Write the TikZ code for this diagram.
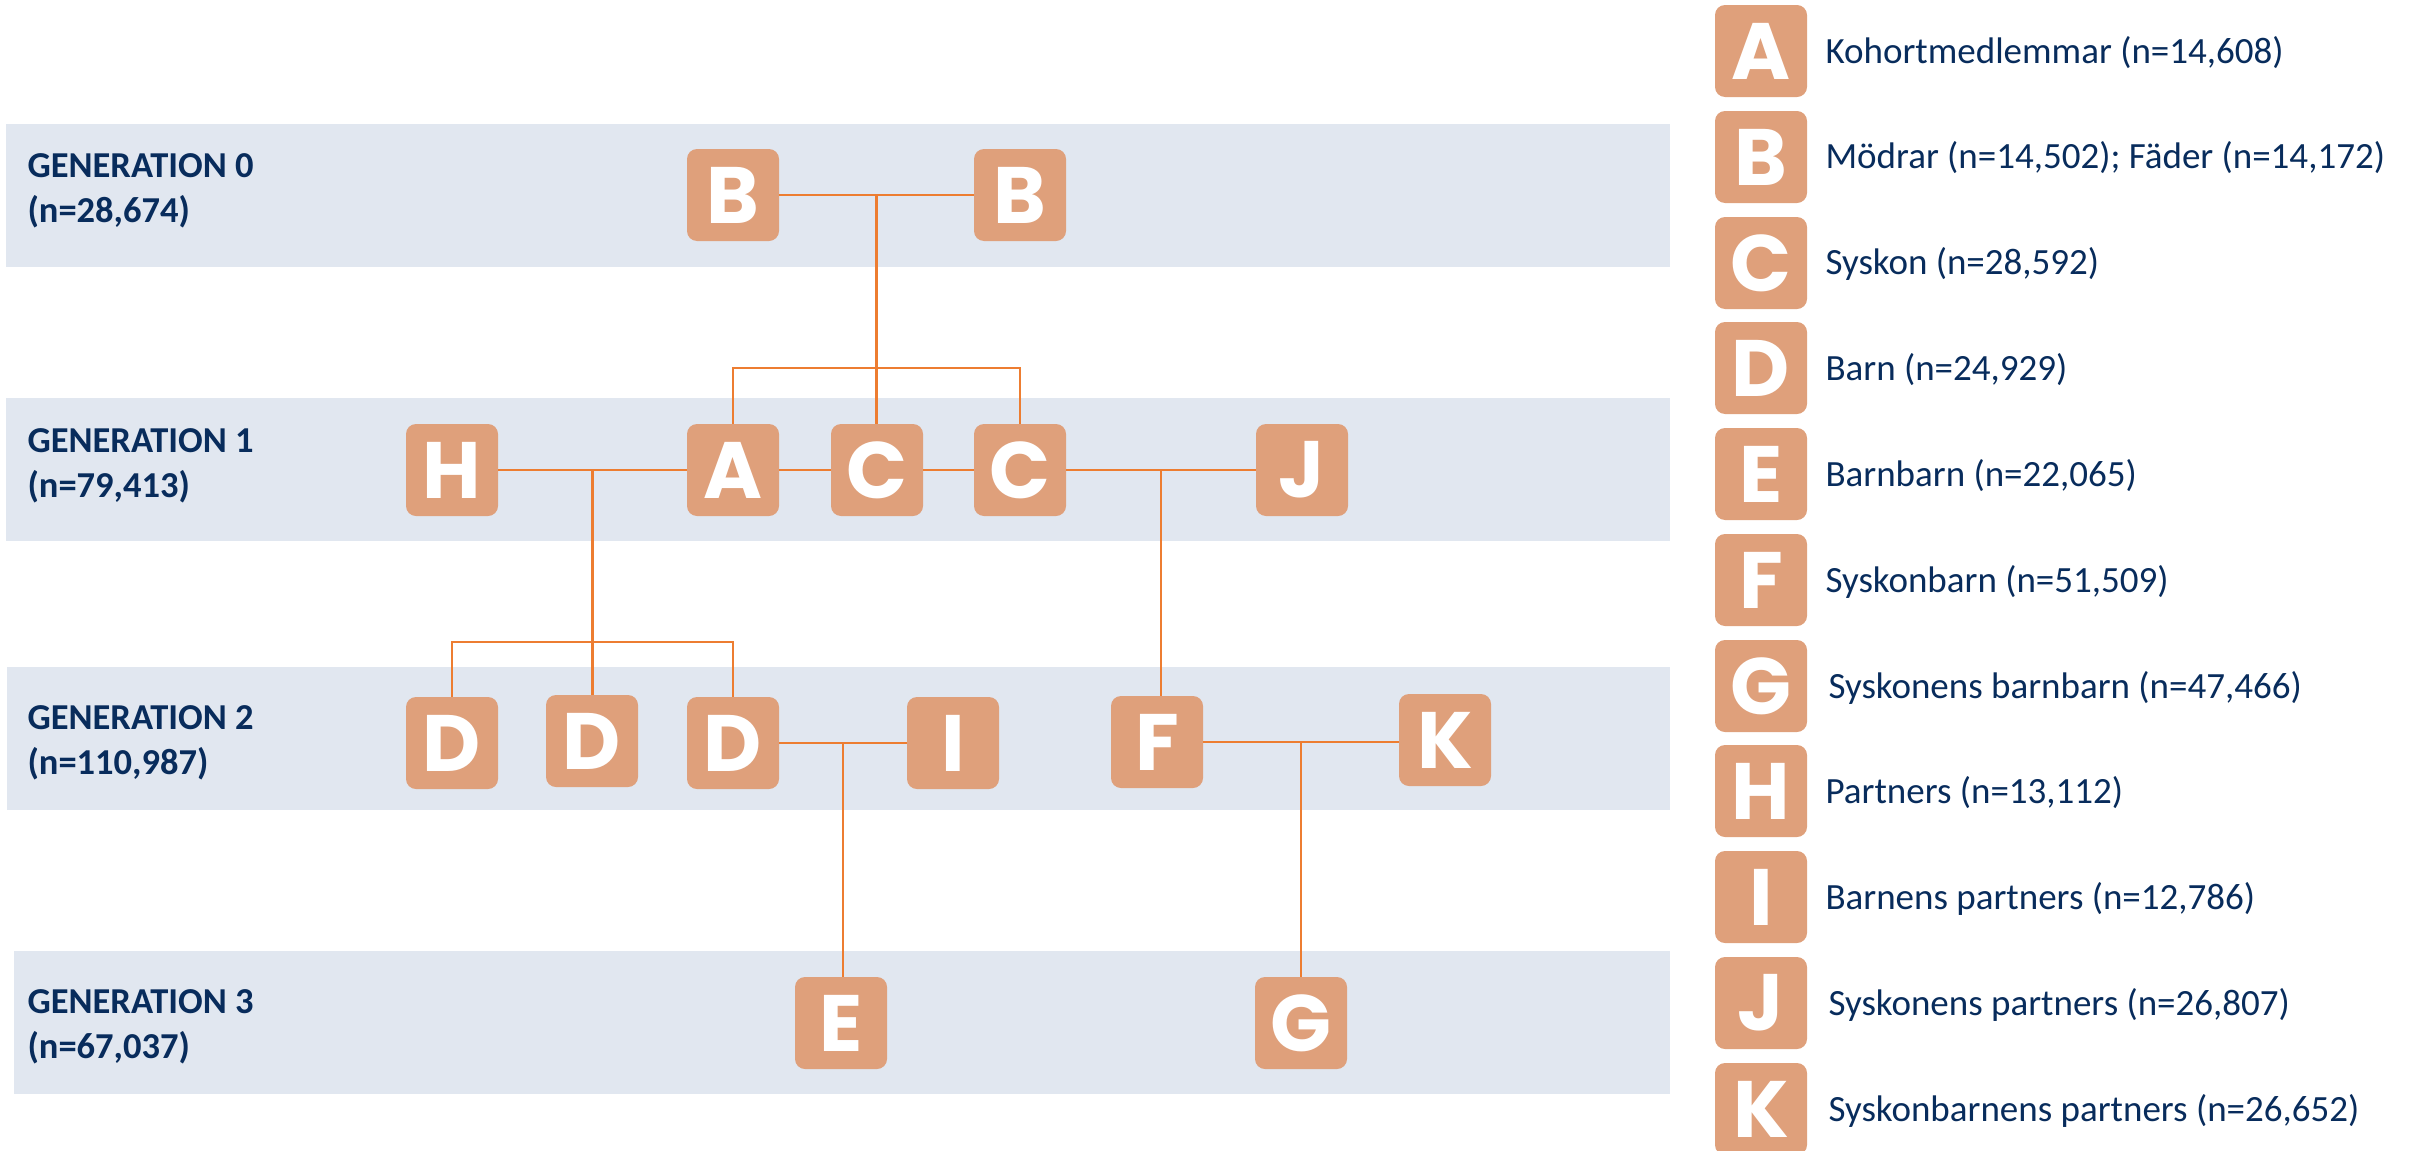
\documentclass[tikz,border=0pt]{standalone}
\usepackage{fontspec}
\setmainfont{Carlito}
\newfontfamily\letterfont{Poppins}
\usepackage{tikz}

\definecolor{bandblue}{RGB}{225,231,240}
\definecolor{boxorange}{RGB}{223,160,123}
\definecolor{lineorange}{RGB}{237,125,49}
\definecolor{navytext}{RGB}{8,44,92}

\tikzset{
  letterbox/.style={rectangle, rounded corners=10pt, fill=boxorange, minimum width=92pt, minimum height=92pt, inner sep=0pt, text=white, font=\letterfont\bfseries\fontsize{80}{80}\selectfont},
  genlabel/.style={anchor=base west, align=left, text=navytext, font=\bfseries\fontsize{36.5}{45}\selectfont},
  legendtext/.style={anchor=base west, text=navytext, font=\fontsize{37}{45}\selectfont},
  famline/.style={draw=lineorange, line width=2.5pt},
}

\begin{document}
\begin{tikzpicture}[x=1pt,y=1pt,yscale=-1,xscale=1]
            \useasboundingbox (0,0) rectangle (2420,1151);
            \fill [bandblue] (6,124) rectangle (1670,267);
            \fill [bandblue] (6,398) rectangle (1670,541);
            \fill [bandblue] (7,667) rectangle (1670,810);
            \fill [bandblue] (14,951) rectangle (1670,1094);
            \node [genlabel] (gen0) at (24,222) {GENERATION 0\\(n=28,674)};
            \node [genlabel] (gen1) at (24,497) {GENERATION 1\\(n=79,413)};
            \node [genlabel] (gen2) at (24,774) {GENERATION 2\\(n=110,987)};
            \node [genlabel] (gen3) at (24,1058) {GENERATION 3\\(n=67,037)};
            \node [letterbox] (b1) at (733,195) {B};
            \node [letterbox] (b2) at (1020,195) {B};
            \node [letterbox] (h) at (452,470) {H};
            \node [letterbox] (a) at (733,470) {A};
            \node [letterbox] (c1) at (877,470) {C};
            \node [letterbox] (c2) at (1020,470) {C};
            \node [letterbox] (j) at (1302,470) {J};
            \node [letterbox] (d1) at (452,743) {D};
            \node [letterbox] (d2) at (592,741) {D};
            \node [letterbox] (d3) at (733,743) {D};
            \node [letterbox] (i) at (953,743) {I};
            \node [letterbox] (f) at (1157,742) {F};
            \node [letterbox] (k) at (1445,740) {K};
            \node [letterbox] (e) at (841,1023) {E};
            \node [letterbox] (g) at (1301,1023) {G};
            \draw [famline] (b1) -- coordinate[midway] (bjoin) (b2);
            \draw [famline] (bjoin) -- (bjoin |- c1.north);
            \draw [famline] (a.north) -- ++(0,-56) -| (c2.north);
            \draw [famline] (h) -- coordinate[midway] (hajoin) (a);
            \draw [famline] (a) -- (c1) -- (c2);
            \draw [famline] (c2) -- coordinate[midway] (cjjoin) (j);
            \draw [famline] (hajoin) -- (hajoin |- d2.north);
            \draw [famline] (d1.north) -- ++(0,-55) -| (d3.north);
            \draw [famline] (cjjoin) -- (cjjoin |- f.north);
            \draw [famline] (d3.east |- i) -- coordinate[midway] (dijoin) (i);
            \draw [famline] (f) -- coordinate[midway] (fkjoin) (k.west |- f);
            \draw [famline] (dijoin) -- (dijoin |- e.north);
            \draw [famline] (fkjoin) -- (fkjoin |- g.north);
            \node [letterbox] (keya) at (1761,51) {A};
            \node [letterbox] (keyb) at (1761,157) {B};
            \node [letterbox] (keyc) at (1761,263) {C};
            \node [letterbox] (keyd) at (1761,368) {D};
            \node [letterbox] (keye) at (1761,474) {E};
            \node [letterbox] (keyf) at (1761,580) {F};
            \node [letterbox] (keyg) at (1761,686) {G};
            \node [letterbox] (keyh) at (1761,791) {H};
            \node [letterbox] (keyi) at (1761,897) {I};
            \node [letterbox] (keyj) at (1761,1003) {J};
            \node [letterbox] (keyk) at (1761,1109) {K};
            \node [legendtext] (texta) at (1822,63) {Kohortmedlemmar (n=14,608)};
            \node [legendtext] (textb) at (1822,168) {Mödrar (n=14,502); Fäder (n=14,172)};
            \node [legendtext] (textc) at (1822,274) {Syskon (n=28,592)};
            \node [legendtext] (textd) at (1822,380) {Barn (n=24,929)};
            \node [legendtext] (texte) at (1822,486) {Barnbarn (n=22,065)};
            \node [legendtext] (textf) at (1822,592) {Syskonbarn (n=51,509)};
            \node [legendtext] (textg) at (1825,698) {Syskonens barnbarn (n=47,466)};
            \node [legendtext] (texth) at (1822,803) {Partners (n=13,112)};
            \node [legendtext] (texti) at (1822,909) {Barnens partners (n=12,786)};
            \node [legendtext] (textj) at (1825,1015) {Syskonens partners (n=26,807)};
            \node [legendtext] (textk) at (1825,1121) {Syskonbarnens partners (n=26,652)};
          \end{tikzpicture}
\end{document}
